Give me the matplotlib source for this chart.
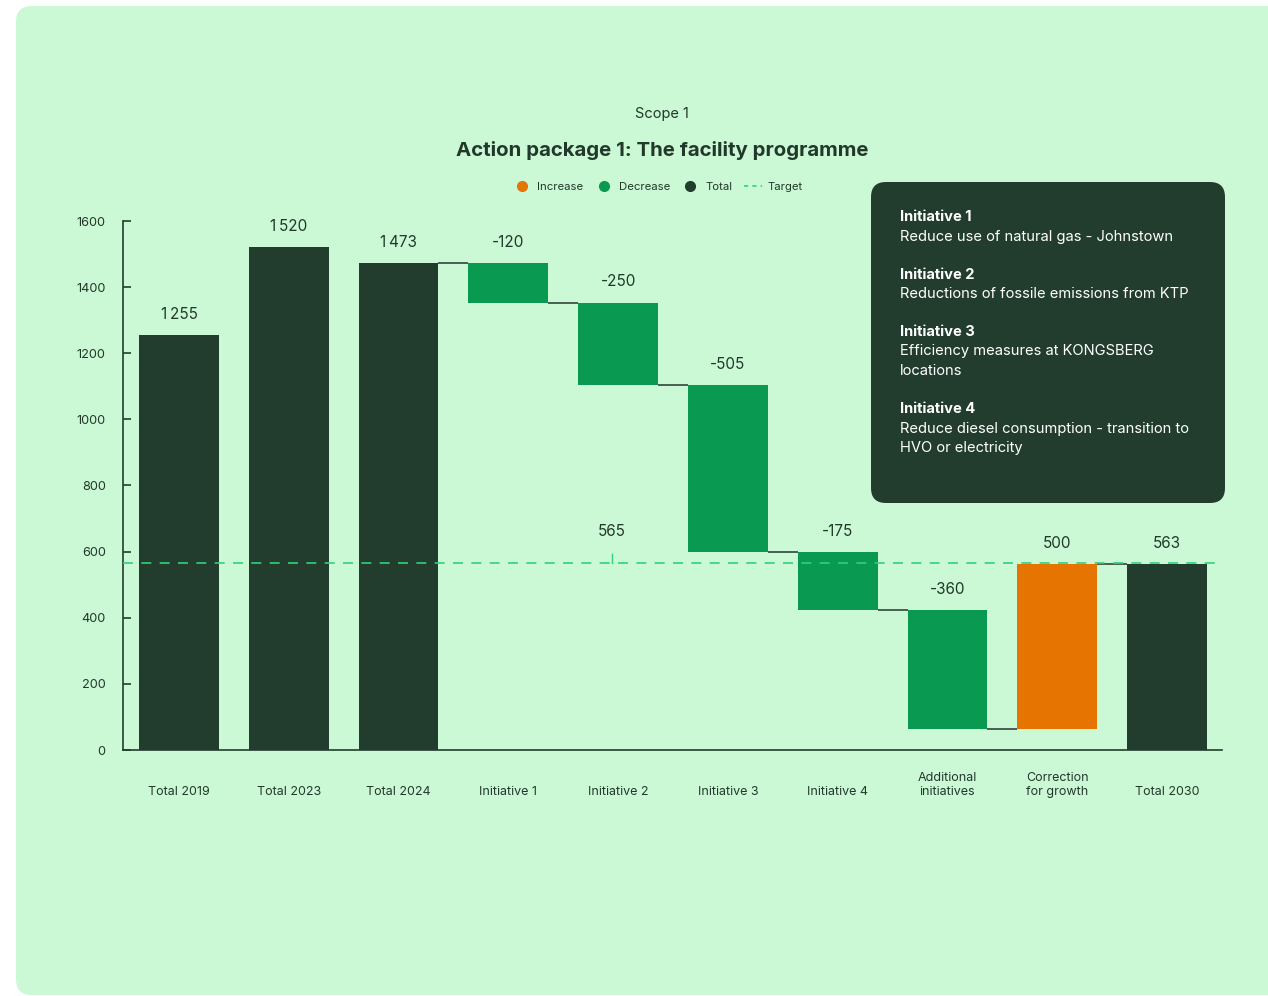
import matplotlib
matplotlib.use("Agg")
import matplotlib.pyplot as plt
from matplotlib.patches import FancyBboxPatch
from matplotlib.lines import Line2D
import numpy as np

plt.rcParams['font.family'] = ['Inter', 'DejaVu Sans']

# ---- data ----
categories = ["Total 2019", "Total 2023", "Total 2024", "Initiative 1", "Initiative 2",
              "Initiative 3", "Initiative 4", "Additional\ninitiatives", "Correction\nfor growth",
              "Total 2030"]
values = [1255, 1520, 1473, -120, -250, -505, -175, -360, 500, 563]
kinds = ["total", "total", "total", "decrease", "decrease", "decrease", "decrease",
         "decrease", "increase", "total"]
value_labels = ["1\u2009255", "1\u2009520", "1\u2009473", "-120", "-250", "-505", "-175",
                "-360", "500", "563"]
target_value = 565
target_label = "565"
target_label_x = 3.94
yticks = [0, 200, 400, 600, 800, 1000, 1200, 1400, 1600]

info_titles = ["Initiative 1", "Initiative 2", "Initiative 3", "Initiative 4"]
info_texts = [["Reduce use of natural gas - Johnstown"],
              ["Reductions of fossile emissions from KTP"],
              ["Efficiency measures at KONGSBERG", "locations"],
              ["Reduce diesel consumption - transition to", "HVO or electricity"]]

# ---- colors ----
BG = "#cbf9d5"
DARK = "#223d2e"
GREEN = "#0a9951"
ORANGE = "#e57500"
TARGET = "#2fd17a"
TEXT = "#22382b"
colors = {"total": DARK, "decrease": GREEN, "increase": ORANGE}

W, H = 1268, 996
fig = plt.figure(figsize=(W / 100, H / 100), dpi=100)
fig.patch.set_facecolor("white")

# background panel
panel = FancyBboxPatch((0.16, 0.01), 13.5, 9.89,
                       boxstyle="round,pad=0,rounding_size=0.16",
                       transform=fig.dpi_scale_trans, facecolor=BG, edgecolor="none", zorder=-10)
fig.patches.append(panel)

ax = fig.add_axes([123 / W, 1 - 750 / H, (1222 - 123) / W, (750 - 221) / H])
ax.set_facecolor("none")
ax.set_zorder(1)

x = np.arange(len(categories))
bottoms = []
heights = []
level = 0
for v, k in zip(values, kinds):
    if k == "total":
        bottoms.append(0)
        heights.append(v)
        level = v
    else:
        new = level + v
        bottoms.append(min(level, new))
        heights.append(abs(v))
        level = new
bar_w = 0.727
ax.bar(x, heights, bottom=bottoms, width=bar_w,
       color=[colors[k] for k in kinds], zorder=2)

# connectors (from Total 2024 onwards)
level = values[2]
for i in range(2, len(values) - 1):
    if kinds[i] != "total":
        level = level + values[i]
    else:
        level = values[i]
    ax.plot([x[i] + bar_w / 2, x[i + 1] - bar_w / 2], [level, level],
            color="#3f5247", lw=1.3, zorder=1, solid_capstyle="butt")

# value labels
for i in range(len(values)):
    top = bottoms[i] + heights[i]
    ax.annotate(value_labels[i], (x[i], top), xytext=(0, 15), textcoords="offset points",
                ha="center", va="center", fontsize=11, color=TEXT)

# target
ax.axhline(target_value, color=TARGET, lw=1.2, dashes=(6, 5), zorder=4)
ax.plot([target_label_x, target_label_x], [target_value, target_value + 27],
        color=TARGET, lw=1.0, zorder=4)
ax.text(target_label_x, target_value + 97, target_label, ha="center", va="center",
        fontsize=11, color=TEXT)

ax.set_xlim(-0.51, 9.5)
ax.set_ylim(0, 1600)
ax.set_yticks(yticks)
ax.set_yticklabels([str(t) for t in yticks], fontsize=9.2, color=TEXT)
ax.set_xticks(x)
ax.set_xticklabels(categories, fontsize=9, color=TEXT, linespacing=1.25)
for lab in ax.get_xticklabels():
    lab.set_verticalalignment("bottom")
ax.tick_params(axis="x", length=0, pad=34.5)
ax.tick_params(axis="y", direction="in", length=6, width=1.2, color=DARK, pad=12.5)
for s in ["top", "right"]:
    ax.spines[s].set_visible(False)
for s in ["left", "bottom"]:
    ax.spines[s].set_color(DARK)
    ax.spines[s].set_linewidth(1.2)

# titles
fig.text(662 / W, 1 - 114 / H, "Scope 1", ha="center", va="center", fontsize=10.5, color=TEXT)
fig.text(662 / W, 1 - 151 / H, "Action package 1: The facility programme", ha="center",
         va="center", fontsize=14.7, fontweight="bold", color=TEXT)

# legend
handles = [Line2D([], [], marker="o", ls="none", color=ORANGE, markersize=7),
           Line2D([], [], marker="o", ls="none", color=GREEN, markersize=7),
           Line2D([], [], marker="o", ls="none", color=DARK, markersize=7),
           Line2D([], [], color=TARGET, lw=1.2, dashes=(2.5, 2.5))]
fig.legend(handles, ["Increase", "Decrease", "Total", "Target"], ncol=4,
           loc="center", bbox_to_anchor=(658 / W, 1 - 187 / H), frameon=False,
           fontsize=8.2, labelcolor=TEXT, handlelength=1.6, handletextpad=0.5,
           columnspacing=1.0)

# info box
box = FancyBboxPatch((8.71, (H - 503) / 100), 3.54, 3.21,
                     boxstyle="round,pad=0,rounding_size=0.15",
                     transform=fig.dpi_scale_trans, facecolor=DARK, edgecolor="none", zorder=5)
fig.patches.append(box)
ys = [217, 275, 332, 409]
for t, lines, y0 in zip(info_titles, info_texts, ys):
    fig.text(900 / W, 1 - y0 / H, t, ha="left", va="center", fontsize=10.6,
             fontweight="bold", color="white", zorder=6)
    for j, ln in enumerate(lines):
        fig.text(900 / W, 1 - (y0 + 19.5 * (j + 1)) / H, ln, ha="left", va="center",
                 fontsize=10.6, color="white", zorder=6)

fig.savefig("out.png", dpi=100, facecolor=fig.get_facecolor())
